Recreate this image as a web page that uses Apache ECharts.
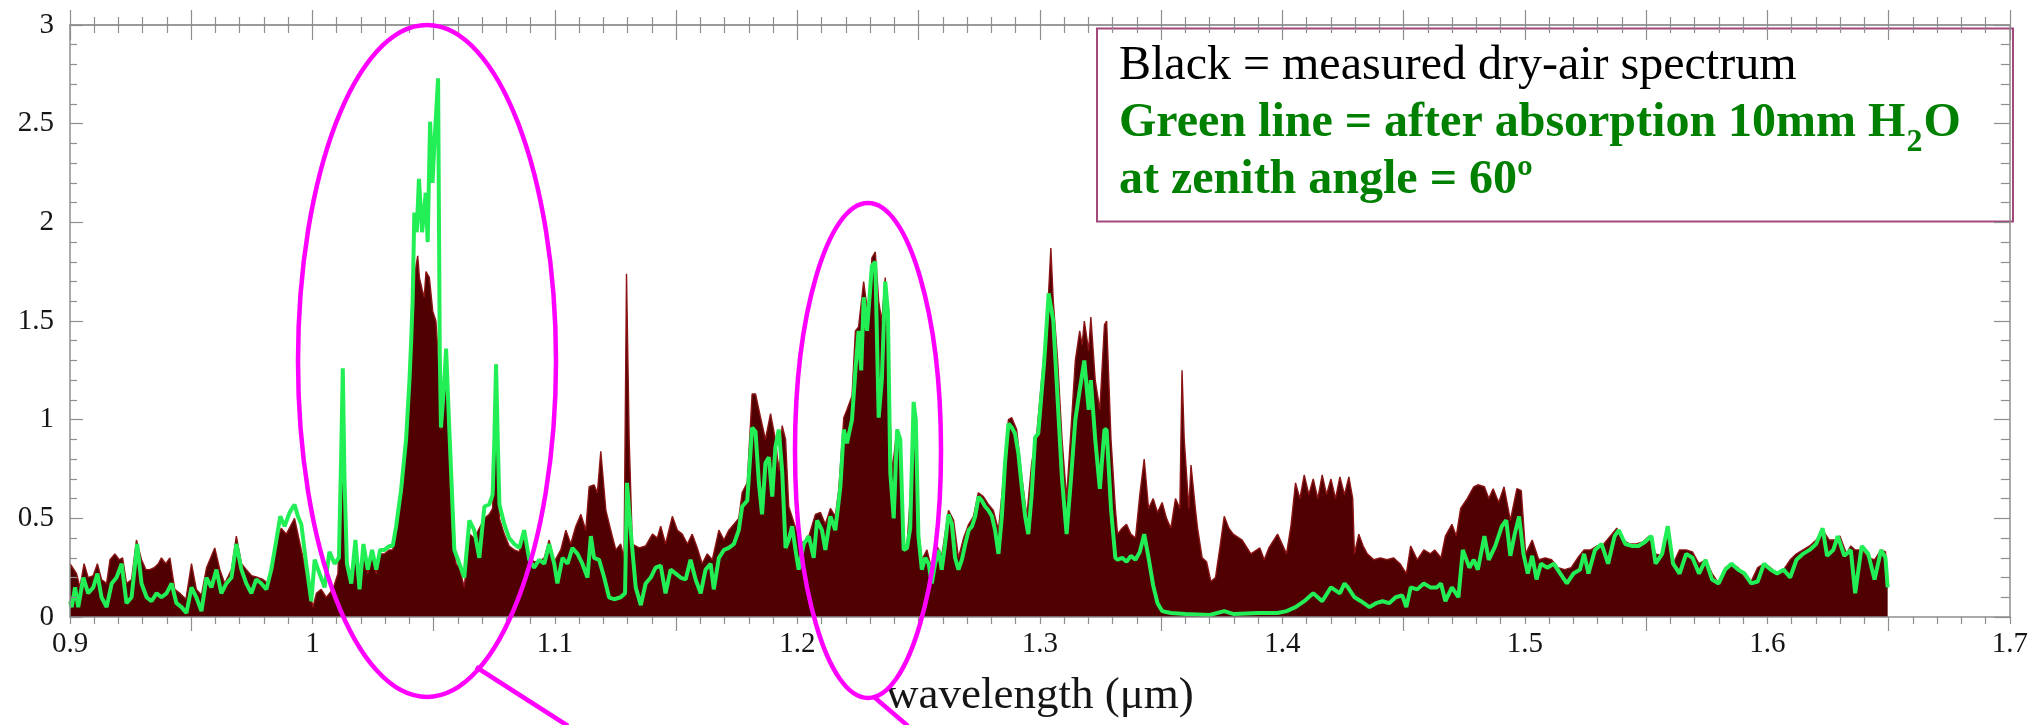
<!DOCTYPE html>
<html><head><meta charset="utf-8">
<script src="https://cdn.jsdelivr.net/npm/echarts@6/dist/echarts.min.js"></script>
<style>html,body{margin:0;padding:0;background:#fff}#c{width:2031px;height:725px}</style>
</head><body><div id="c"></div>
<script>
// [wavelength (µm), value] — measured dry-air spectrum (dark fill)
const drySpectrum = [
[0.9000,0.27],[0.9027,0.22],[0.9041,0.15],[0.9058,0.27],[0.9075,0.20],[0.9096,0.21],[0.9113,0.27],[0.9130,0.19],[0.9151,0.17],[0.9165,0.29],
[0.9185,0.32],[0.9203,0.29],[0.9217,0.30],[0.9233,0.17],[0.9254,0.19],[0.9274,0.39],[0.9295,0.29],[0.9313,0.24],[0.9329,0.24],[0.9347,0.25],
[0.9364,0.27],[0.9377,0.30],[0.9395,0.27],[0.9412,0.30],[0.9432,0.14],[0.9453,0.12],[0.9478,0.09],[0.9501,0.27],[0.9521,0.14],[0.9542,0.11],
[0.9563,0.25],[0.9597,0.35],[0.9618,0.24],[0.9638,0.17],[0.9666,0.24],[0.9686,0.41],[0.9707,0.27],[0.9727,0.24],[0.9748,0.21],[0.9775,0.20],
[0.9796,0.19],[0.9817,0.17],[0.9837,0.24],[0.9851,0.38],[0.9871,0.45],[0.9892,0.42],[0.9913,0.47],[0.9926,0.50],[0.9940,0.42],[0.9961,0.30],
[0.9981,0.17],[1.0002,0.05],[1.0016,0.12],[1.0036,0.14],[1.0057,0.10],[1.0084,0.14],[1.0105,0.22],[1.0118,0.80],[1.0125,1.22],[1.0132,0.60],
[1.0142,0.25],[1.0160,0.17],[1.0177,0.36],[1.0194,0.14],[1.0210,0.34],[1.0228,0.22],[1.0246,0.32],[1.0263,0.22],[1.0279,0.32],[1.0297,0.32],
[1.0317,0.34],[1.0331,0.34],[1.0345,0.45],[1.0365,0.64],[1.0386,0.91],[1.0407,1.32],[1.0416,1.60],[1.0427,1.78],[1.0434,1.83],[1.0441,1.72],
[1.0452,1.66],[1.0461,1.62],[1.0468,1.75],[1.0482,1.72],[1.0496,1.55],[1.0509,1.50],[1.0520,1.30],[1.0530,0.95],[1.0544,1.10],[1.0551,1.30],
[1.0562,0.90],[1.0575,0.45],[1.0592,0.27],[1.0606,0.25],[1.0626,0.15],[1.0647,0.42],[1.0667,0.40],[1.0688,0.45],[1.0709,0.50],[1.0729,0.52],
[1.0743,0.55],[1.0750,0.90],[1.0757,1.28],[1.0764,0.85],[1.0771,0.50],[1.0791,0.42],[1.0811,0.36],[1.0832,0.34],[1.0853,0.33],[1.0873,0.44],
[1.0894,0.30],[1.0914,0.28],[1.0935,0.28],[1.0956,0.30],[1.0976,0.39],[1.0997,0.28],[1.1024,0.34],[1.1045,0.44],[1.1065,0.37],[1.1086,0.46],
[1.1107,0.52],[1.1127,0.44],[1.1141,0.66],[1.1161,0.67],[1.1175,0.63],[1.1189,0.84],[1.1210,0.54],[1.1230,0.44],[1.1251,0.34],[1.1271,0.37],
[1.1285,0.30],[1.1295,1.74],[1.1306,0.90],[1.1319,0.37],[1.1347,0.35],[1.1374,0.36],[1.1402,0.42],[1.1422,0.40],[1.1436,0.46],[1.1456,0.37],
[1.1484,0.51],[1.1505,0.44],[1.1525,0.42],[1.1546,0.37],[1.1566,0.42],[1.1587,0.35],[1.1607,0.27],[1.1628,0.32],[1.1649,0.29],[1.1676,0.44],
[1.1697,0.39],[1.1717,0.44],[1.1738,0.47],[1.1758,0.50],[1.1772,0.63],[1.1793,0.68],[1.1813,1.13],[1.1827,1.13],[1.1848,1.01],[1.1868,0.90],
[1.1889,1.03],[1.1909,0.90],[1.1923,0.74],[1.1937,0.97],[1.1951,0.90],[1.1964,0.56],[1.1985,0.48],[1.2005,0.40],[1.2026,0.37],[1.2047,0.41],
[1.2074,0.52],[1.2095,0.53],[1.2115,0.47],[1.2136,0.55],[1.2156,0.51],[1.2170,0.64],[1.2191,1.01],[1.2204,1.05],[1.2225,1.12],[1.2239,1.45],
[1.2252,1.47],[1.2273,1.70],[1.2294,1.50],[1.2307,1.82],[1.2321,1.85],[1.2335,1.60],[1.2348,1.50],[1.2362,1.72],[1.2376,1.25],[1.2390,0.73],
[1.2410,0.95],[1.2424,0.91],[1.2438,0.36],[1.2452,0.37],[1.2465,0.60],[1.2479,1.07],[1.2488,0.95],[1.2499,0.44],[1.2513,0.29],[1.2534,0.34],
[1.2554,0.24],[1.2575,0.36],[1.2595,0.31],[1.2623,0.54],[1.2644,0.49],[1.2664,0.30],[1.2685,0.40],[1.2706,0.47],[1.2726,0.51],[1.2746,0.63],
[1.2767,0.61],[1.2788,0.57],[1.2808,0.54],[1.2829,0.44],[1.2850,0.71],[1.2870,1.00],[1.2884,1.01],[1.2904,0.95],[1.2925,0.71],[1.2946,0.51],
[1.2966,0.78],[1.2987,0.93],[1.3018,1.35],[1.3036,1.65],[1.3045,1.87],[1.3055,1.60],[1.3073,1.30],[1.3091,0.90],[1.3110,0.60],[1.3128,0.95],
[1.3146,1.30],[1.3164,1.45],[1.3174,1.38],[1.3183,1.50],[1.3201,1.35],[1.3210,1.52],[1.3228,1.20],[1.3247,1.05],[1.3266,1.48],[1.3275,1.50],
[1.3293,0.90],[1.3311,0.55],[1.3320,0.42],[1.3339,0.45],[1.3357,0.47],[1.3375,0.42],[1.3394,0.40],[1.3412,0.62],[1.3430,0.80],[1.3448,0.55],
[1.3467,0.60],[1.3485,0.53],[1.3504,0.58],[1.3522,0.50],[1.3540,0.45],[1.3559,0.60],[1.3577,0.55],[1.3586,1.25],[1.3595,0.90],[1.3614,0.55],
[1.3623,0.77],[1.3641,0.55],[1.3650,0.45],[1.3669,0.30],[1.3687,0.28],[1.3705,0.18],[1.3724,0.20],[1.3742,0.35],[1.3760,0.51],[1.3779,0.45],
[1.3797,0.42],[1.3834,0.39],[1.3870,0.32],[1.3907,0.35],[1.3925,0.29],[1.3944,0.35],[1.3980,0.42],[1.4017,0.32],[1.4035,0.46],[1.4054,0.68],
[1.4072,0.60],[1.4090,0.72],[1.4109,0.62],[1.4127,0.70],[1.4146,0.60],[1.4164,0.72],[1.4182,0.62],[1.4200,0.70],[1.4219,0.60],[1.4237,0.71],
[1.4256,0.62],[1.4274,0.71],[1.4290,0.60],[1.4297,0.32],[1.4315,0.42],[1.4333,0.36],[1.4350,0.32],[1.4377,0.29],[1.4404,0.30],[1.4431,0.29],
[1.4458,0.30],[1.4485,0.27],[1.4511,0.22],[1.4529,0.36],[1.4556,0.29],[1.4583,0.34],[1.4610,0.32],[1.4628,0.34],[1.4654,0.30],[1.4672,0.41],
[1.4699,0.47],[1.4717,0.41],[1.4735,0.55],[1.4762,0.60],[1.4789,0.66],[1.4806,0.67],[1.4833,0.66],[1.4851,0.60],[1.4869,0.65],[1.4892,0.58],
[1.4914,0.66],[1.4940,0.49],[1.4967,0.65],[1.4985,0.64],[1.5003,0.32],[1.5030,0.39],[1.5057,0.29],[1.5084,0.30],[1.5110,0.29],[1.5137,0.25],
[1.5164,0.24],[1.5191,0.25],[1.5218,0.30],[1.5244,0.34],[1.5271,0.34],[1.5298,0.36],[1.5325,0.37],[1.5352,0.41],[1.5379,0.45],[1.5405,0.39],
[1.5432,0.37],[1.5459,0.37],[1.5486,0.38],[1.5513,0.41],[1.5539,0.32],[1.5566,0.31],[1.5589,0.46],[1.5611,0.27],[1.5638,0.34],[1.5665,0.34],
[1.5691,0.33],[1.5718,0.27],[1.5745,0.29],[1.5772,0.22],[1.5799,0.17],[1.5826,0.25],[1.5852,0.27],[1.5879,0.25],[1.5906,0.20],[1.5933,0.18],
[1.5960,0.25],[1.5986,0.27],[1.6013,0.25],[1.6040,0.22],[1.6067,0.24],[1.6094,0.29],[1.6120,0.32],[1.6147,0.34],[1.6174,0.36],[1.6201,0.39],
[1.6228,0.44],[1.6255,0.39],[1.6281,0.39],[1.6299,0.41],[1.6326,0.32],[1.6344,0.36],[1.6362,0.34],[1.6389,0.34],[1.6416,0.30],[1.6442,0.29],
[1.6469,0.34],[1.6487,0.33],[1.6496,0.15]
];

// [wavelength (µm), value] — after absorption by 10 mm H2O at zenith angle 60º (green line)
const afterAbsorption = [
[0.9000,0.08],[0.9007,0.05],[0.9021,0.15],[0.9034,0.05],[0.9055,0.20],[0.9075,0.12],[0.9096,0.15],[0.9113,0.22],[0.9130,0.10],[0.9151,0.05],
[0.9172,0.17],[0.9192,0.20],[0.9213,0.27],[0.9233,0.07],[0.9254,0.10],[0.9277,0.37],[0.9295,0.17],[0.9316,0.10],[0.9336,0.08],[0.9357,0.12],
[0.9377,0.10],[0.9398,0.12],[0.9419,0.17],[0.9439,0.07],[0.9460,0.05],[0.9480,0.02],[0.9501,0.15],[0.9521,0.10],[0.9542,0.03],[0.9563,0.20],
[0.9583,0.15],[0.9604,0.24],[0.9624,0.12],[0.9645,0.17],[0.9666,0.20],[0.9686,0.37],[0.9707,0.24],[0.9727,0.17],[0.9748,0.12],[0.9768,0.19],
[0.9789,0.17],[0.9810,0.14],[0.9830,0.24],[0.9851,0.39],[0.9867,0.51],[0.9885,0.46],[0.9906,0.53],[0.9926,0.57],[0.9940,0.51],[0.9954,0.47],
[0.9974,0.27],[0.9995,0.08],[1.0009,0.29],[1.0029,0.22],[1.0050,0.15],[1.0070,0.33],[1.0091,0.27],[1.0109,0.30],[1.0118,0.80],[1.0125,1.26],
[1.0132,0.70],[1.0142,0.27],[1.0160,0.17],[1.0177,0.39],[1.0194,0.14],[1.0210,0.37],[1.0228,0.24],[1.0246,0.34],[1.0263,0.24],[1.0279,0.34],
[1.0297,0.34],[1.0317,0.36],[1.0331,0.36],[1.0345,0.46],[1.0365,0.64],[1.0386,0.90],[1.0400,1.20],[1.0407,1.40],[1.0413,1.60],[1.0420,2.05],
[1.0430,1.95],[1.0439,2.22],[1.0452,1.95],[1.0467,2.15],[1.0475,1.90],[1.0485,2.51],[1.0495,2.20],[1.0505,2.45],[1.0518,2.73],[1.0525,1.33],
[1.0530,0.96],[1.0544,1.20],[1.0551,1.36],[1.0564,0.96],[1.0585,0.34],[1.0606,0.27],[1.0626,0.20],[1.0647,0.49],[1.0667,0.44],[1.0688,0.30],
[1.0709,0.56],[1.0729,0.57],[1.0743,0.62],[1.0750,0.90],[1.0757,1.28],[1.0764,0.90],[1.0771,0.57],[1.0791,0.47],[1.0811,0.40],[1.0832,0.37],
[1.0853,0.35],[1.0873,0.44],[1.0894,0.29],[1.0914,0.25],[1.0935,0.29],[1.0956,0.27],[1.0976,0.37],[1.0997,0.27],[1.1010,0.17],[1.1031,0.30],
[1.1052,0.27],[1.1072,0.35],[1.1093,0.32],[1.1113,0.27],[1.1134,0.20],[1.1148,0.41],[1.1161,0.30],[1.1182,0.29],[1.1203,0.20],[1.1223,0.10],
[1.1244,0.09],[1.1271,0.10],[1.1289,0.12],[1.1297,0.68],[1.1312,0.44],[1.1333,0.15],[1.1354,0.06],[1.1374,0.17],[1.1395,0.20],[1.1415,0.25],
[1.1436,0.26],[1.1456,0.12],[1.1477,0.24],[1.1498,0.22],[1.1518,0.20],[1.1539,0.19],[1.1559,0.29],[1.1580,0.19],[1.1601,0.12],[1.1621,0.24],
[1.1642,0.27],[1.1655,0.14],[1.1676,0.30],[1.1697,0.34],[1.1717,0.35],[1.1738,0.37],[1.1758,0.44],[1.1772,0.56],[1.1793,0.59],[1.1813,0.96],
[1.1827,0.94],[1.1841,0.68],[1.1854,0.52],[1.1868,0.78],[1.1882,0.81],[1.1896,0.61],[1.1909,0.86],[1.1923,0.95],[1.1937,0.74],[1.1951,0.35],
[1.1964,0.39],[1.1978,0.46],[1.1992,0.34],[1.2005,0.24],[1.2026,0.37],[1.2047,0.41],[1.2067,0.30],[1.2081,0.49],[1.2101,0.44],[1.2115,0.34],
[1.2136,0.51],[1.2156,0.44],[1.2177,0.66],[1.2191,0.95],[1.2204,0.88],[1.2225,1.00],[1.2239,1.25],[1.2252,1.45],[1.2263,1.25],[1.2273,1.62],
[1.2287,1.45],[1.2307,1.78],[1.2321,1.80],[1.2335,1.01],[1.2348,1.20],[1.2362,1.70],[1.2373,1.55],[1.2383,0.73],[1.2397,0.50],[1.2411,0.95],
[1.2424,0.90],[1.2438,0.34],[1.2452,0.35],[1.2465,0.45],[1.2479,1.09],[1.2488,1.00],[1.2499,0.41],[1.2513,0.24],[1.2527,0.30],[1.2541,0.27],
[1.2554,0.17],[1.2568,0.27],[1.2582,0.34],[1.2595,0.24],[1.2609,0.37],[1.2623,0.52],[1.2637,0.47],[1.2650,0.30],[1.2664,0.24],[1.2678,0.29],
[1.2692,0.37],[1.2706,0.44],[1.2720,0.46],[1.2733,0.51],[1.2747,0.61],[1.2760,0.59],[1.2774,0.56],[1.2788,0.54],[1.2802,0.51],[1.2815,0.44],
[1.2829,0.32],[1.2843,0.51],[1.2856,0.78],[1.2870,0.98],[1.2884,0.96],[1.2897,0.93],[1.2911,0.83],[1.2925,0.66],[1.2939,0.51],[1.2952,0.42],
[1.2966,0.62],[1.2980,0.91],[1.2993,0.93],[1.3018,1.30],[1.3036,1.64],[1.3055,1.50],[1.3073,1.10],[1.3091,0.70],[1.3110,0.42],[1.3128,0.70],
[1.3146,1.00],[1.3164,1.15],[1.3183,1.30],[1.3201,1.05],[1.3210,1.20],[1.3228,0.90],[1.3247,0.65],[1.3266,0.95],[1.3275,0.95],[1.3293,0.55],
[1.3311,0.30],[1.3320,0.29],[1.3339,0.30],[1.3357,0.28],[1.3375,0.31],[1.3394,0.29],[1.3412,0.33],[1.3430,0.42],[1.3448,0.30],[1.3467,0.16],
[1.3485,0.07],[1.3504,0.03],[1.3540,0.02],[1.3600,0.015],[1.3700,0.01],[1.3760,0.03],[1.3800,0.015],[1.3900,0.02],[1.3980,0.02],[1.4017,0.03],
[1.4054,0.05],[1.4090,0.08],[1.4127,0.12],[1.4164,0.08],[1.4200,0.15],[1.4237,0.12],[1.4256,0.17],[1.4270,0.15],[1.4297,0.10],[1.4324,0.08],
[1.4359,0.05],[1.4386,0.07],[1.4413,0.08],[1.4440,0.07],[1.4467,0.10],[1.4494,0.11],[1.4511,0.05],[1.4529,0.15],[1.4556,0.14],[1.4583,0.17],
[1.4610,0.15],[1.4637,0.15],[1.4654,0.17],[1.4672,0.08],[1.4699,0.15],[1.4726,0.10],[1.4744,0.34],[1.4771,0.25],[1.4789,0.29],[1.4806,0.24],
[1.4833,0.41],[1.4851,0.29],[1.4878,0.36],[1.4905,0.46],[1.4923,0.49],[1.4940,0.31],[1.4958,0.42],[1.4976,0.51],[1.4994,0.32],[1.5012,0.22],
[1.5030,0.31],[1.5048,0.19],[1.5066,0.27],[1.5092,0.25],[1.5119,0.27],[1.5146,0.22],[1.5173,0.17],[1.5200,0.22],[1.5227,0.24],[1.5244,0.32],
[1.5262,0.22],[1.5289,0.34],[1.5316,0.37],[1.5343,0.27],[1.5370,0.41],[1.5387,0.44],[1.5414,0.37],[1.5441,0.36],[1.5468,0.36],[1.5495,0.38],
[1.5522,0.41],[1.5539,0.27],[1.5566,0.32],[1.5589,0.46],[1.5611,0.27],[1.5638,0.22],[1.5665,0.32],[1.5691,0.30],[1.5718,0.22],[1.5745,0.29],
[1.5772,0.19],[1.5799,0.17],[1.5826,0.24],[1.5852,0.27],[1.5879,0.24],[1.5906,0.22],[1.5933,0.17],[1.5960,0.18],[1.5986,0.27],[1.6013,0.24],
[1.6040,0.22],[1.6067,0.24],[1.6094,0.20],[1.6120,0.29],[1.6147,0.32],[1.6174,0.34],[1.6201,0.37],[1.6228,0.45],[1.6246,0.31],[1.6272,0.34],
[1.6290,0.41],[1.6317,0.31],[1.6344,0.34],[1.6362,0.12],[1.6389,0.36],[1.6416,0.32],[1.6442,0.19],[1.6469,0.34],[1.6487,0.30],[1.6496,0.15]
];

const xLabelValues = [0.9, 1.0, 1.1, 1.2, 1.3, 1.4, 1.5, 1.6, 1.7];
const xLongTickValues = [0.95, 1.05, 1.15, 1.25, 1.35, 1.45, 1.55, 1.65];
const axisTitle = 'wavelength (μm)';
const legendLine1 = 'Black = measured dry-air spectrum';
const legendLine2a = 'Green line = after absorption 10mm H';
const legendLine2sub = '2';
const legendLine2b = 'O';
const legendLine3 = 'at zenith angle = 60º';

const SERIF = '"Liberation Serif", "Times New Roman", serif';
const AX = '#8e8e8e';
const chart = echarts.init(document.getElementById('c'), null, {renderer: 'canvas'});

function fmtX(v) {
  const r = Math.round(v * 100) / 100;
  for (const t of xLabelValues) if (Math.abs(t - r) < 1e-6) return String(+t.toFixed(1));
  return '';
}

const mctx = document.createElement('canvas').getContext('2d');
mctx.font = 'bold 48px "Liberation Serif"';
const wH = mctx.measureText(legendLine2a).width;
mctx.font = 'bold 32px "Liberation Serif"';
const w2 = mctx.measureText(legendLine2sub).width;

const TX = 1119;
const baseX = {type: 'value', min: 0.9, max: 1.7, interval: 0.05, z: 10,
  splitLine: {show: false}, gridIndex: 0};

chart.setOption({
  animation: false,
  grid: {left: 70, right: 18, top: 25, bottom: 108, containLabel: false},
  xAxis: [
    Object.assign({}, baseX, {
      position: 'bottom',
      axisLine: {lineStyle: {color: AX, width: 1.5}},
      axisTick: {show: true, length: 14, customValues: xLongTickValues, lineStyle: {color: AX, width: 1.2}},
      minorTick: {show: true, splitNumber: 5, length: 7, lineStyle: {color: AX, width: 1.2}},
      axisLabel: {formatter: fmtX, fontFamily: SERIF, fontSize: 29, color: '#151515', margin: 13, showMaxLabel: true, showMinLabel: true},
      name: axisTitle, nameLocation: 'middle', nameGap: 57,
      nameTextStyle: {fontFamily: SERIF, fontSize: 45, color: '#151515'}
    }),
    Object.assign({}, baseX, {
      position: 'bottom', interval: 0.1,
      axisLine: {show: false},
      axisTick: {show: true, length: 7, lineStyle: {color: AX, width: 1.2}},
      minorTick: {show: false}, axisLabel: {show: false}
    }),
    Object.assign({}, baseX, {
      position: 'top',
      axisLine: {lineStyle: {color: '#9a9a9a', width: 2}},
      axisTick: {show: true, inside: true, length: 15, lineStyle: {color: AX, width: 1.2}},
      minorTick: {show: true, splitNumber: 5, length: 8, lineStyle: {color: AX, width: 1.2}},
      axisLabel: {show: false}
    }),
    Object.assign({}, baseX, {
      position: 'top',
      axisLine: {show: false},
      axisTick: {show: true, inside: false, length: 15, lineStyle: {color: AX, width: 1.2}},
      minorTick: {show: true, splitNumber: 5, length: 8, lineStyle: {color: AX, width: 1.2}},
      axisLabel: {show: false}
    })
  ],
  yAxis: [
    {type: 'value', position: 'left', min: 0, max: 3, interval: 0.5, z: 10,
     splitLine: {show: false},
     axisLine: {show: true, lineStyle: {color: AX, width: 1.5}},
     axisTick: {show: true, inside: true, length: 13, lineStyle: {color: AX, width: 1.2}},
     minorTick: {show: true, splitNumber: 5, length: 7, lineStyle: {color: AX, width: 1.2}},
     axisLabel: {fontFamily: SERIF, fontSize: 29, color: '#151515', margin: 16}},
    {type: 'value', position: 'right', min: 0, max: 3, interval: 0.5, z: 10,
     splitLine: {show: false},
     axisLine: {show: true, lineStyle: {color: AX, width: 1.5}},
     axisTick: {show: true, inside: true, length: 16, lineStyle: {color: AX, width: 1.2}},
     minorTick: {show: true, splitNumber: 5, length: 9, lineStyle: {color: AX, width: 1.2}},
     axisLabel: {show: false}}
  ],
  series: [
    {name: 'measured', type: 'line', xAxisIndex: 0, yAxisIndex: 0, data: drySpectrum,
     symbol: 'none', z: 2,
     lineStyle: {color: '#8a1414', width: 1.4},
     areaStyle: {color: '#500000', opacity: 1}},
    {name: 'absorbed', type: 'line', xAxisIndex: 0, yAxisIndex: 0, data: afterAbsorption,
     symbol: 'none', z: 3,
     lineStyle: {color: '#22ee55', width: 4}}
  ],
  graphic: [
    {type: 'rect', z: 5, shape: {x: 1097, y: 28.5, width: 916, height: 193},
     style: {fill: '#ffffff', stroke: '#a3497c', lineWidth: 2}},
    {type: 'text', z: 6, x: TX, y: 66.5,
     style: {text: legendLine1, fontFamily: SERIF, fontSize: 48, fill: '#000', verticalAlign: 'middle', align: 'left'}},
    {type: 'text', z: 6, x: TX, y: 123.8,
     style: {text: legendLine2a, fontFamily: SERIF, fontSize: 48, fontWeight: 'bold', fill: '#008000', verticalAlign: 'middle', align: 'left'}},
    {type: 'text', z: 6, x: TX + wH + 1, y: 142.5,
     style: {text: legendLine2sub, fontFamily: SERIF, fontSize: 32, fontWeight: 'bold', fill: '#008000', verticalAlign: 'middle', align: 'left'}},
    {type: 'text', z: 6, x: TX + wH + w2 + 2, y: 123.8,
     style: {text: legendLine2b, fontFamily: SERIF, fontSize: 48, fontWeight: 'bold', fill: '#008000', verticalAlign: 'middle', align: 'left'}},
    {type: 'text', z: 6, x: TX, y: 180.8,
     style: {text: legendLine3, fontFamily: SERIF, fontSize: 48, fontWeight: 'bold', fill: '#008000', verticalAlign: 'middle', align: 'left'}},
    {type: 'ellipse', z: 100, shape: {cx: 427, cy: 361, rx: 129, ry: 336},
     style: {fill: null, stroke: '#ff00ff', lineWidth: 4.5}},
    {type: 'ellipse', z: 100, shape: {cx: 868, cy: 450.5, rx: 73, ry: 247.5},
     style: {fill: null, stroke: '#ff00ff', lineWidth: 4.5}},
    {type: 'line', z: 100, shape: {x1: 476, y1: 667, x2: 568, y2: 726},
     style: {stroke: '#ff00ff', lineWidth: 4.5}},
    {type: 'line', z: 100, shape: {x1: 874, y1: 697, x2: 908, y2: 726},
     style: {stroke: '#ff00ff', lineWidth: 4.5}}
  ]
});
</script>
</body></html>
